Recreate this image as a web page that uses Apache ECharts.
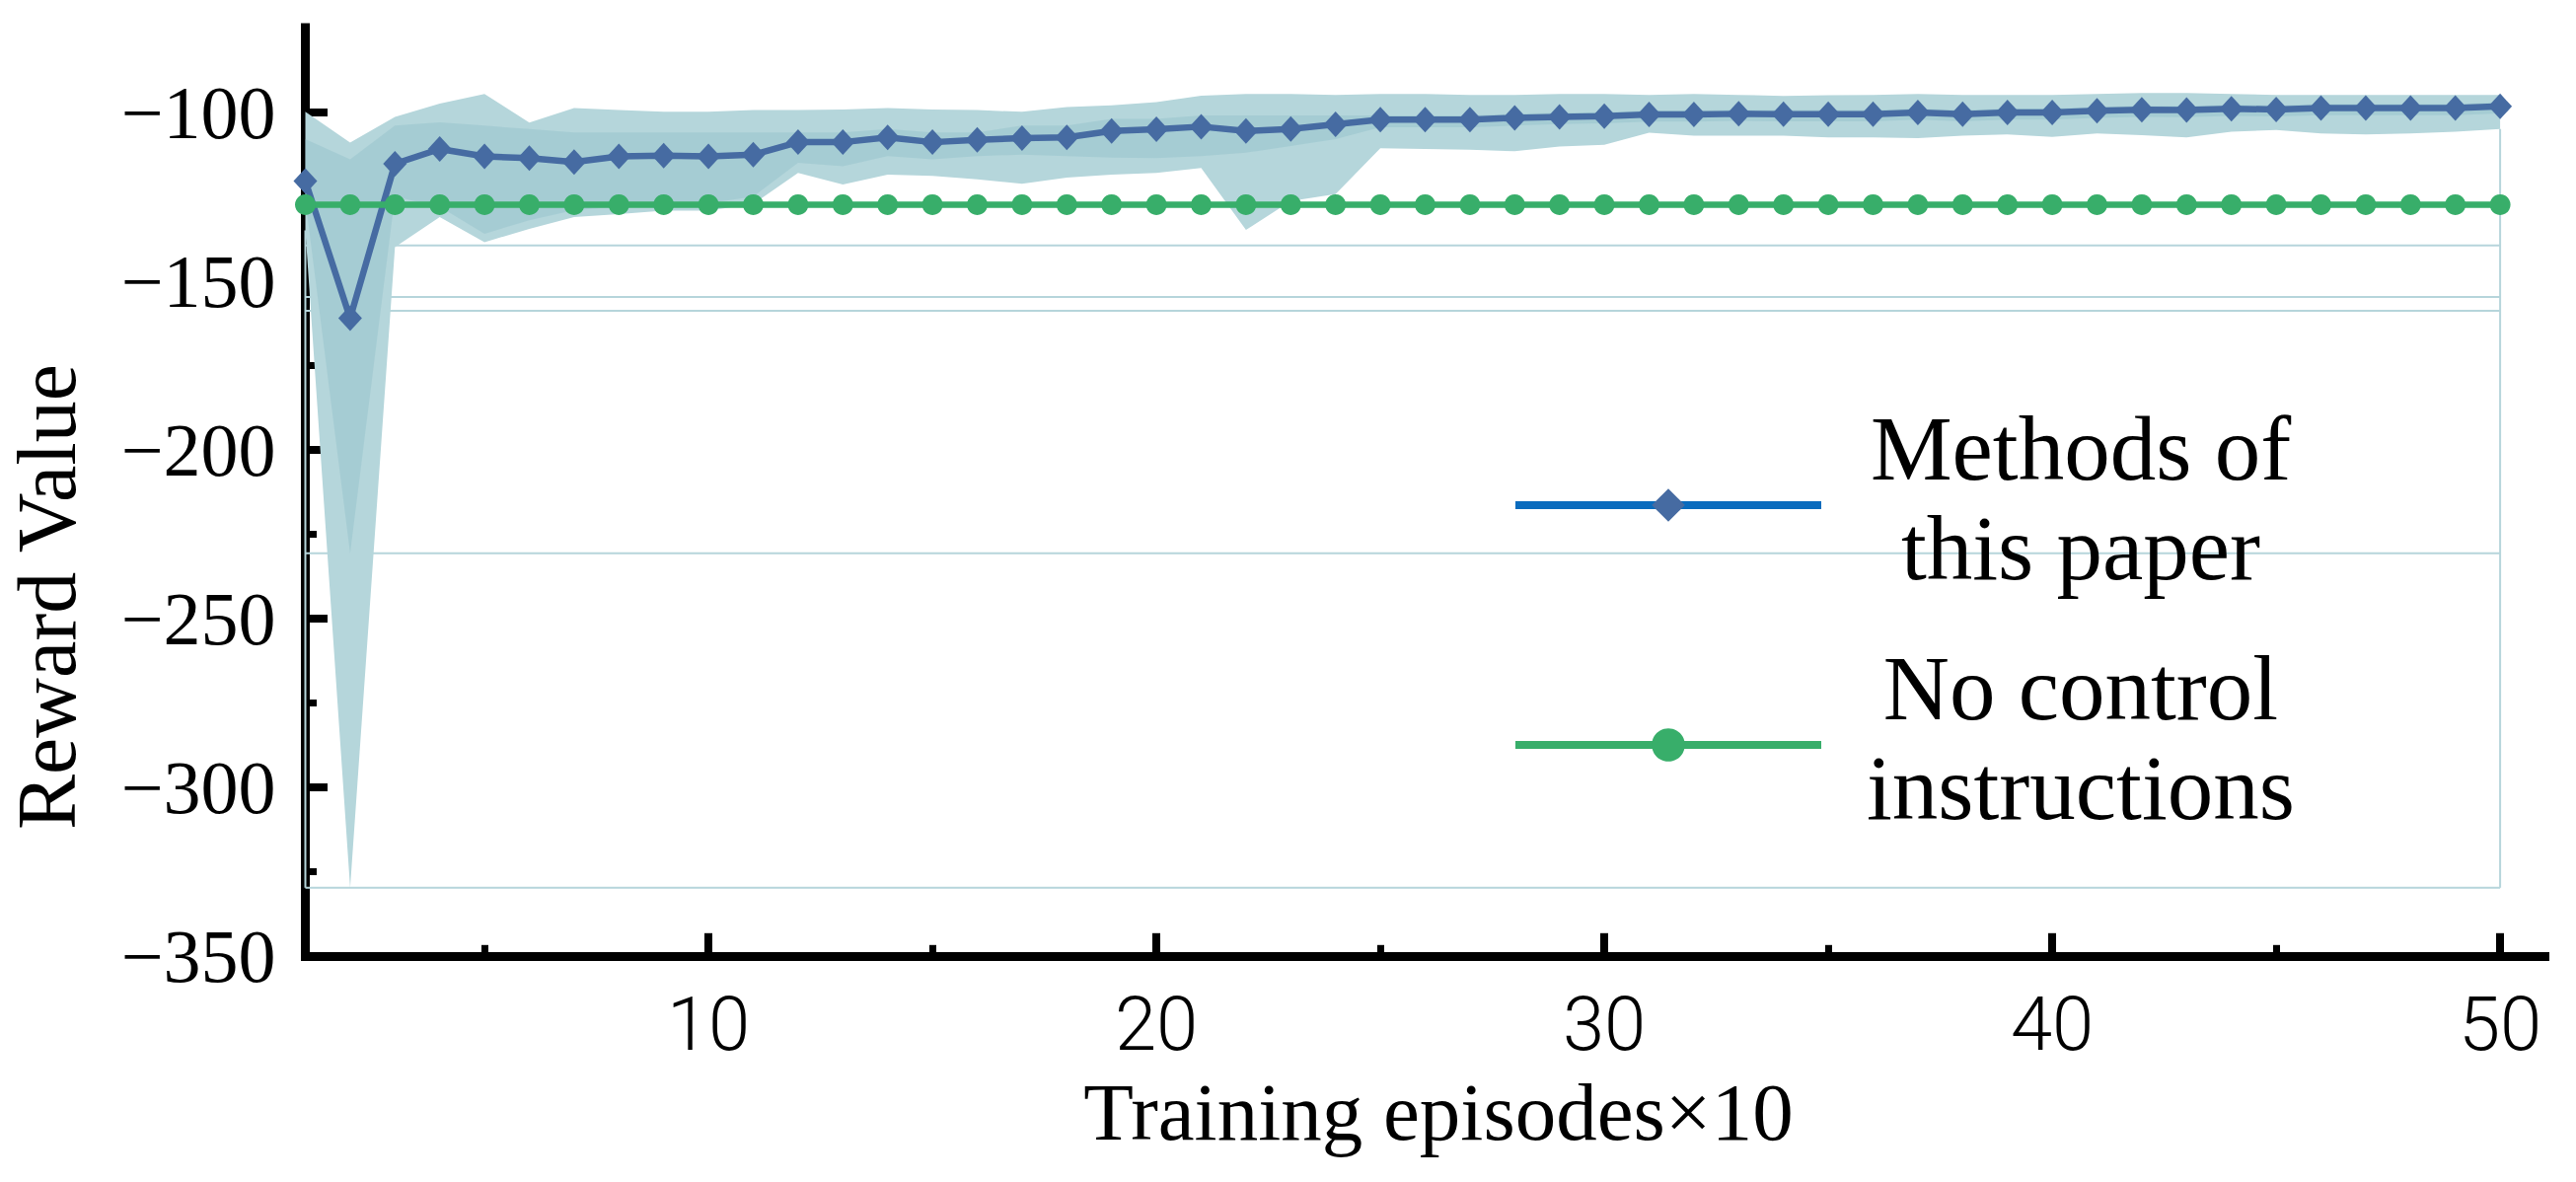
<!DOCTYPE html>
<html>
<head>
<meta charset="utf-8">
<title>Reward Value</title>
<script src="https://cdn.jsdelivr.net/npm/echarts@6.0.0/dist/echarts.min.js"></script>
<style>
  html, body { margin: 0; padding: 0; background: #fff; }
  #main { width: 2611px; height: 1198px; }
</style>
</head>
<body>
<div id="main"></div>
<script>
// 横轴：训练回合（×10）
const episodes = [1, 2, 3, 4, 5, 6, 7, 8, 9, 10,
  11, 12, 13, 14, 15, 16, 17, 18, 19, 20,
  21, 22, 23, 24, 25, 26, 27, 28, 29, 30,
  31, 32, 33, 34, 35, 36, 37, 38, 39, 40,
  41, 42, 43, 44, 45, 46, 47, 48, 49, 50];

// 本文方法的平均奖励
const ourMethod = [-120.4, -161.0, -115.3, -110.9, -113.1, -113.6, -114.8, -113.1, -112.9, -113.1,
  -112.6, -108.9, -108.9, -107.5, -108.9, -108.2, -107.7, -107.5, -105.6, -105.1,
  -104.3, -105.6, -105.0, -103.6, -102.2, -102.2, -102.2, -101.7, -101.4, -101.2,
  -100.7, -100.7, -100.5, -100.6, -100.6, -100.6, -100.1, -100.6, -100.1, -100.1,
  -99.6, -99.3, -99.4, -99.0, -99.2, -98.8, -98.8, -98.8, -98.8, -98.3];

// 无控制指令
const noControl = [-127.4, -127.4, -127.4, -127.4, -127.4, -127.4, -127.4, -127.4, -127.4, -127.4,
  -127.4, -127.4, -127.4, -127.4, -127.4, -127.4, -127.4, -127.4, -127.4, -127.4,
  -127.4, -127.4, -127.4, -127.4, -127.4, -127.4, -127.4, -127.4, -127.4, -127.4,
  -127.4, -127.4, -127.4, -127.4, -127.4, -127.4, -127.4, -127.4, -127.4, -127.4,
  -127.4, -127.4, -127.4, -127.4, -127.4, -127.4, -127.4, -127.4, -127.4, -127.4];

// 外层阴影带（上下边界）
const outerUpper = [-99.9, -109.0, -101.4, -97.5, -94.6, -103.1, -98.8, -99.4, -99.9, -99.9,
  -99.4, -99.4, -99.2, -98.8, -99.2, -99.4, -99.9, -98.5, -98.0, -97.0,
  -95.1, -94.6, -94.6, -94.9, -94.6, -94.6, -94.9, -94.9, -94.6, -94.6,
  -94.9, -94.6, -94.9, -95.2, -95.0, -94.9, -94.6, -94.9, -94.9, -94.9,
  -94.6, -94.3, -94.3, -94.6, -94.9, -94.9, -94.9, -94.9, -94.9, -94.9];
const outerLower = [-135.0, -329.7, -140.0, -131.1, -138.5, -134.6, -131.1, -130.2, -129.2, -129.2,
  -127.2, -118.0, -121.4, -118.5, -118.9, -119.9, -121.2, -119.4, -118.5, -118.0,
  -116.5, -134.9, -126.3, -124.3, -110.7, -110.9, -111.1, -111.6, -110.2, -109.7,
  -106.1, -107.0, -107.0, -107.0, -107.5, -107.5, -107.7, -107.0, -106.6, -107.3,
  -106.3, -106.8, -107.5, -105.8, -105.3, -106.3, -106.6, -106.3, -105.8, -105.0];

// 内层阴影带
const innerUpper = [-108, -114, -104, -103, -104, -105, -106, -106, -106, -106,
  -106, -106, -106, -105, -106, -106, -104, -104, -102, -102,
  -101, -101, -101, -101, -101, -101, -101, -100.5, -100.2, -100,
  -99.5, -99.5, -99.3, -99.4, -99.4, -99.4, -98.9, -99.4, -98.9, -98.9,
  -98.4, -98.1, -98.2, -97.8, -98.0, -97.6, -97.6, -97.6, -97.6, -97.1];
const innerLower = [-126, -230.6, -125, -128, -136, -132, -129, -128, -127, -127,
  -125, -115, -116, -113, -114, -113, -112.6, -113, -113.5, -113.6,
  -113, -112, -110, -108, -104.5, -104.5, -104.5, -104, -103.5, -103.3,
  -102.8, -102.8, -102.6, -102.7, -102.7, -102.7, -102.2, -102.7, -102.2, -102.2,
  -101.7, -101.4, -101.5, -101.1, -101.3, -100.9, -100.9, -100.9, -100.9, -100.4];

// 阴影带底边的浅色细线
const bandFloors = [-139.5, -154.7, -158.8, -230.6, -329.7];

// 刻度
const xMajorTicks = [10, 20, 30, 40, 50];
const xMinorTicks = [5, 15, 25, 35, 45];
const yMajorTicks = [-350, -300, -250, -200, -150, -100];
const yMinorTicks = [-325, -275, -225, -175, -125];

const serif = '"Liberation Serif", "Times New Roman", serif';
const edgeColor = '#b6d5db';

const chart = echarts.init(document.getElementById('main'), null, { renderer: 'svg' });

// 阴影带：用上下边界拼成一个多边形
function bandSeries(upper, lower, fill) {
  return {
    type: 'custom',
    silent: true,
    xAxisIndex: 0,
    yAxisIndex: 0,
    data: [[episodes[0], upper[0]]],
    renderItem: function (params, api) {
      const top = episodes.map((x, i) => api.coord([x, upper[i]]));
      const bottom = episodes.map((x, i) => api.coord([x, lower[i]])).reverse();
      return {
        type: 'polygon',
        shape: { points: top.concat(bottom) },
        style: { fill: fill }
      };
    }
  };
}

const edgeSeries = {
  type: 'custom',
  silent: true,
  xAxisIndex: 0,
  yAxisIndex: 0,
  data: [[episodes[0], bandFloors[0]]],
  renderItem: function (params, api) {
    const first = episodes[0];
    const last = episodes[episodes.length - 1];
    const deepest = Math.min.apply(null, bandFloors);
    const lineStyle = { stroke: edgeColor, lineWidth: 2, fill: null };
    const children = bandFloors.map(v => ({
      type: 'polyline',
      shape: { points: [api.coord([first, v]), api.coord([last, v])] },
      style: lineStyle
    }));
    children.push({
      type: 'polyline',
      shape: { points: [api.coord([first, outerLower[0]]), api.coord([first, deepest])] },
      style: lineStyle
    });
    children.push({
      type: 'polyline',
      shape: { points: [api.coord([last, outerLower[outerLower.length - 1]]), api.coord([last, deepest])] },
      style: lineStyle
    });
    return { type: 'group', children: children };
  }
};

const nameOurs = 'Methods of\nthis paper';
const nameNone = 'No control\ninstructions';

const option = {
  animation: false,
  backgroundColor: '#fff',
  grid: { left: 309.5, right: 31.5, top: 28.1, bottom: 228.7, containLabel: false },
  xAxis: [
    {
      type: 'value', min: 1, max: 51, position: 'bottom',
      axisLine: { show: true, onZero: false, lineStyle: { color: '#000', width: 9, cap: 'square' } },
      axisTick: { show: true, inside: true, length: 23.5, customValues: xMajorTicks, lineStyle: { color: '#000', width: 8 } },
      axisLabel: {
        show: true, customValues: xMajorTicks, margin: 31, color: '#000',
        fontFamily: 'Roboto', fontWeight: 300, fontSize: 76
      },
      splitLine: { show: false }
    },
    {
      type: 'value', min: 1, max: 51, position: 'bottom',
      axisLine: { show: false },
      axisTick: { show: true, inside: true, length: 11.5, customValues: xMinorTicks, lineStyle: { color: '#000', width: 7 } },
      axisLabel: { show: false },
      splitLine: { show: false }
    }
  ],
  yAxis: [
    {
      type: 'value', min: -350, max: -75, position: 'left',
      axisLine: { show: true, onZero: false, lineStyle: { color: '#000', width: 9, cap: 'square' } },
      axisTick: { show: true, inside: true, length: 22.5, customValues: yMajorTicks, lineStyle: { color: '#000', width: 8 } },
      axisLabel: {
        show: true, customValues: yMajorTicks, margin: 30, color: '#000',
        fontFamily: serif, fontSize: 76,
        formatter: v => String(v).replace('-', '\u2212')
      },
      splitLine: { show: false }
    },
    {
      type: 'value', min: -350, max: -75, position: 'left',
      axisLine: { show: false },
      axisTick: { show: true, inside: true, length: 11.5, customValues: yMinorTicks, lineStyle: { color: '#000', width: 7 } },
      axisLabel: { show: false },
      splitLine: { show: false }
    }
  ],
  legend: {
    orient: 'vertical',
    left: 1532,
    top: 408,
    padding: 0,
    itemWidth: 310,
    itemHeight: 42,
    itemGap: 49,
    selectedMode: false,
    data: [
      { name: nameOurs, itemStyle: { color: '#466ba2' }, lineStyle: { color: '#0a6bbd', width: 8 } },
      { name: nameNone, itemStyle: { color: '#38ae6a' }, lineStyle: { color: '#38ae6a', width: 8 } }
    ],
    formatter: name => name.split('\n').map(s => '{t|' + s + '}').join('\n'),
    textStyle: {
      padding: [0, 0, 14, 0],
      rich: {
        t: { fontFamily: serif, fontSize: 93, lineHeight: 101, width: 516, align: 'center', color: '#000' }
      }
    }
  },
  graphic: [
    {
      type: 'text', x: 47, y: 605, rotation: Math.PI / 2,
      style: {
        text: 'Reward Value', font: '84px ' + serif, fill: '#000',
        align: 'center', verticalAlign: 'middle', textAlign: 'center', textVerticalAlign: 'middle'
      }
    },
    {
      type: 'text', x: 1458, y: 1127,
      style: {
        text: 'Training episodes\u00d710', font: '83px ' + serif, fill: '#000',
        align: 'center', verticalAlign: 'middle', textAlign: 'center', textVerticalAlign: 'middle'
      }
    }
  ],
  series: [
    edgeSeries,
    bandSeries(outerUpper, outerLower, '#b5d6db'),
    bandSeries(innerUpper, innerLower, 'rgba(143,191,200,0.4)'),
    {
      name: nameOurs,
      type: 'line',
      data: episodes.map((x, i) => [x, ourMethod[i]]),
      symbol: 'diamond',
      symbolSize: [24, 26],
      showAllSymbol: true,
      lineStyle: { color: '#466ba2', width: 6.5 },
      itemStyle: { color: '#466ba2' },
      z: 3
    },
    {
      name: nameNone,
      type: 'line',
      data: episodes.map((x, i) => [x, noControl[i]]),
      symbol: 'circle',
      symbolSize: 21,
      showAllSymbol: true,
      lineStyle: { color: '#38ae6a', width: 6.5 },
      itemStyle: { color: '#38ae6a' },
      z: 4
    }
  ]
};

chart.setOption(option);
</script>
</body>
</html>
